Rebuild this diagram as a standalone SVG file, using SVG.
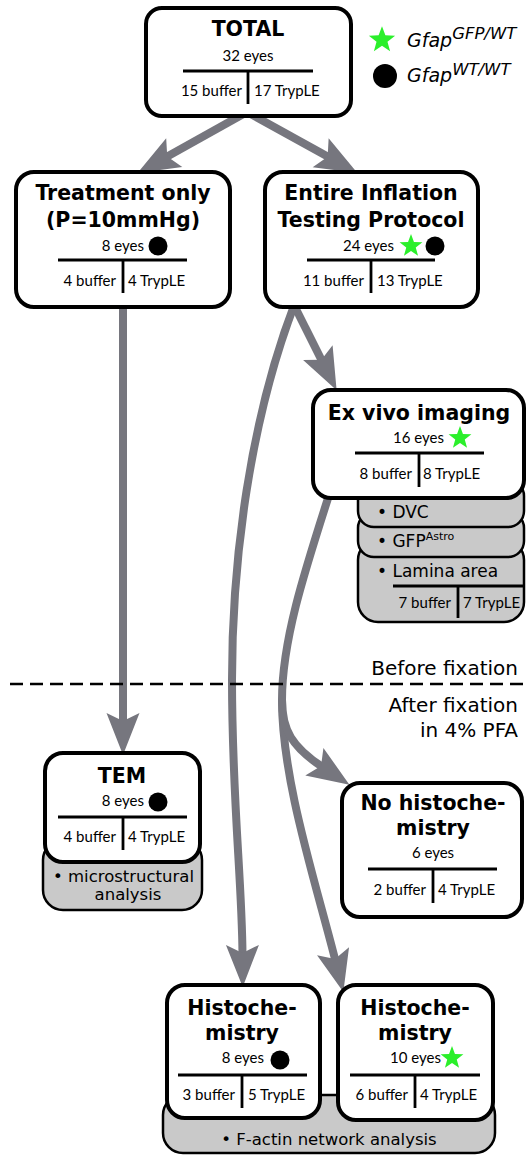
<svg xmlns="http://www.w3.org/2000/svg" width="526" height="1155" viewBox="0 0 526 1155">
<style>
.box{fill:#fff;stroke:#000;stroke-width:4}
.gbox{fill:#c9c9c9;stroke:#000;stroke-width:2.5}
.dv{stroke:#000;stroke-width:2.8;fill:none}
.title{font-family:"DejaVu Sans",Verdana,sans-serif;font-weight:bold;font-size:20.5px;text-anchor:middle;fill:#000}
.sm{font-family:Lato,"Liberation Sans",sans-serif;font-size:15px;fill:#000}
.e{text-anchor:end}
.m{text-anchor:middle}
.gt{font-family:"DejaVu Sans",Verdana,sans-serif;font-size:17px;fill:#000}
.lg{font-family:"DejaVu Sans",Verdana,sans-serif;font-style:italic;font-size:19px;fill:#000}
.conn{stroke:#76767e;stroke-width:8;fill:none;marker-end:url(#ah)}
.star{fill:#2bef2b}
</style>
<defs>
<marker id="ah" markerUnits="userSpaceOnUse" viewBox="-44 -18 46 36" markerWidth="46" markerHeight="36" refX="-32" refY="0" orient="auto" overflow="visible">
<path d="M0,0 L-42,-16.5 L-34,0 L-42,16.5 Z" fill="#76767e"/>
</marker>
<path id="st" d="M0,-12 L2.94,-4.05 L11.41,-3.71 L4.76,1.55 L7.05,9.71 L0,5 L-7.05,9.71 L-4.76,1.55 L-11.41,-3.71 L-2.94,-4.05 Z"/>
</defs>

<g id="connectors">
<path class="conn" d="M247,112 L165.5,157.5"/>
<path class="conn" d="M247,112 L329.4,157.6"/>
<path class="conn" d="M123,300 L123,723"/>
<path class="conn" d="M293,303 L322.3,361.6"/>
<path class="conn" d="M295,303 C250,420 232,560 232,680 C232,800 242,880 242.5,955"/>
<path class="conn" d="M330,492 C305,570 282,640 282,700 C282,780 315,880 335.5,961"/>
<path class="conn" d="M282,700 C282,730 292,747 322.7,767.2"/>
</g>

<g id="fixation">
<line x1="10" y1="684" x2="526" y2="684" stroke="#000" stroke-width="2.5" stroke-dasharray="13 7"/>
<text class="gt" x="518" y="675" text-anchor="end" style="font-size:20px">Before fixation</text>
<text class="gt" x="518" y="712" text-anchor="end" style="font-size:20px">After fixation</text>
<text class="gt" x="518" y="737" text-anchor="end" style="font-size:20px">in 4% PFA</text>
</g>

<g id="legend">
<use href="#st" class="star" transform="translate(382,40) scale(1.15)"/>
<text class="lg" x="407" y="47">Gfap<tspan dy="-8" style="font-size:16.5px">GFP/WT</tspan></text>
<circle cx="385" cy="76" r="12" fill="#000"/>
<text class="lg" x="407" y="82">Gfap<tspan dy="-7" style="font-size:16.5px">WT/WT</tspan></text>
</g>

<g id="total">
<rect class="box" x="146" y="8" width="205" height="108" rx="16"/>
<text class="title" x="248" y="36">TOTAL</text>
<text class="sm m" x="248" y="61">32 eyes</text>
<line class="dv" x1="183" y1="71" x2="313" y2="71"/>
<line class="dv" x1="248" y1="71" x2="248" y2="104"/>
<text class="sm e" x="242" y="96">15 buffer</text>
<text class="sm" x="254" y="96">17 TrypLE</text>
</g>

<g id="treatment">
<rect class="box" x="16" y="172" width="214" height="135" rx="18"/>
<text class="title" x="123" y="200">Treatment only</text>
<text class="title" x="123" y="227">(P=10mmHg)</text>
<text class="sm e" x="144" y="251">8 eyes</text>
<circle cx="158" cy="246" r="9.5" fill="#000"/>
<line class="dv" x1="58" y1="260" x2="187" y2="260"/>
<line class="dv" x1="123" y1="260" x2="123" y2="293"/>
<text class="sm e" x="116" y="286">4 buffer</text>
<text class="sm" x="128" y="286">4 TrypLE</text>
</g>

<g id="entire">
<rect class="box" x="265" y="172" width="213" height="135" rx="18"/>
<text class="title" x="371" y="200">Entire Inflation</text>
<text class="title" x="371" y="227">Testing Protocol</text>
<text class="sm e" x="394" y="251">24 eyes</text>
<use href="#st" class="star" transform="translate(411,246)"/>
<circle cx="435" cy="246" r="9.5" fill="#000"/>
<line class="dv" x1="307" y1="260" x2="435" y2="260"/>
<line class="dv" x1="371" y1="260" x2="371" y2="293"/>
<text class="sm e" x="364" y="286">11 buffer</text>
<text class="sm" x="377" y="286">13 TrypLE</text>
</g>

<g id="exvivo">
<rect class="gbox" x="358" y="540" width="166" height="82" rx="20"/>
<rect class="gbox" x="358" y="512" width="166" height="45" rx="16"/>
<rect class="gbox" x="358" y="480" width="166" height="47" rx="16"/>
<text class="gt" x="377" y="518">• DVC</text>
<text class="gt" x="377" y="547">• GFP<tspan dy="-7" style="font-size:11px">Astro</tspan></text>
<text class="gt" x="377" y="577">• Lamina area</text>
<line class="dv" x1="393" y1="586" x2="524" y2="586"/>
<line class="dv" x1="458" y1="586" x2="458" y2="618"/>
<text class="sm e" x="451" y="608">7 buffer</text>
<text class="sm" x="463" y="608">7 TrypLE</text>
<rect class="box" x="313" y="390" width="211" height="108" rx="18"/>
<text class="title" x="419" y="420">Ex vivo imaging</text>
<text class="sm e" x="444" y="443">16 eyes</text>
<use href="#st" class="star" transform="translate(460,438)"/>
<line class="dv" x1="355" y1="453" x2="484" y2="453"/>
<line class="dv" x1="419" y1="453" x2="419" y2="487"/>
<text class="sm e" x="412" y="479">8 buffer</text>
<text class="sm" x="423" y="479">8 TrypLE</text>
</g>

<g id="tem">
<rect class="gbox" x="43" y="840" width="159" height="70" rx="20"/>
<text class="gt" x="53" y="882" style="font-size:16.5px">• microstructural</text>
<text class="gt" x="128" y="900" text-anchor="middle" style="font-size:16.5px">analysis</text>
<rect class="box" x="45" y="753" width="155" height="109" rx="18"/>
<text class="title" x="122" y="783">TEM</text>
<text class="sm e" x="144" y="806">8 eyes</text>
<circle cx="158" cy="802" r="9.5" fill="#000"/>
<line class="dv" x1="58" y1="817" x2="187" y2="817"/>
<line class="dv" x1="123" y1="817" x2="123" y2="850"/>
<text class="sm e" x="116" y="842">4 buffer</text>
<text class="sm" x="128" y="842">4 TrypLE</text>
</g>

<g id="nohisto">
<rect class="box" x="342" y="783" width="180" height="134" rx="18"/>
<text class="title" x="433" y="810">No histoche-</text>
<text class="title" x="433" y="835">mistry</text>
<text class="sm m" x="433" y="858">6 eyes</text>
<line class="dv" x1="368" y1="869" x2="497" y2="869"/>
<line class="dv" x1="433" y1="869" x2="433" y2="903"/>
<text class="sm e" x="426" y="895">2 buffer</text>
<text class="sm" x="438" y="895">4 TrypLE</text>
</g>

<g id="factin">
<rect class="gbox" x="163" y="1095" width="332" height="58" rx="20"/>
<text class="gt" x="329" y="1145" text-anchor="middle" style="font-size:16.5px">• F-actin network analysis</text>
</g>

<g id="histo1">
<rect class="box" x="167" y="985" width="153" height="133" rx="18"/>
<text class="title" x="242" y="1015">Histoche-</text>
<text class="title" x="242" y="1040">mistry</text>
<text class="sm e" x="264" y="1063">8 eyes</text>
<circle cx="280" cy="1060" r="9.5" fill="#000"/>
<line class="dv" x1="178" y1="1075" x2="307" y2="1075"/>
<line class="dv" x1="242" y1="1075" x2="242" y2="1108"/>
<text class="sm e" x="235" y="1100">3 buffer</text>
<text class="sm" x="248" y="1100">5 TrypLE</text>
</g>

<g id="histo2">
<rect class="box" x="338" y="985" width="155" height="135" rx="18"/>
<text class="title" x="415" y="1015">Histoche-</text>
<text class="title" x="415" y="1040">mistry</text>
<text class="sm e" x="441" y="1063">10 eyes</text>
<use href="#st" class="star" transform="translate(452,1058)"/>
<line class="dv" x1="350" y1="1075" x2="480" y2="1075"/>
<line class="dv" x1="415" y1="1075" x2="415" y2="1108"/>
<text class="sm e" x="408" y="1100">6 buffer</text>
<text class="sm" x="420" y="1100">4 TrypLE</text>
</g>
</svg>
